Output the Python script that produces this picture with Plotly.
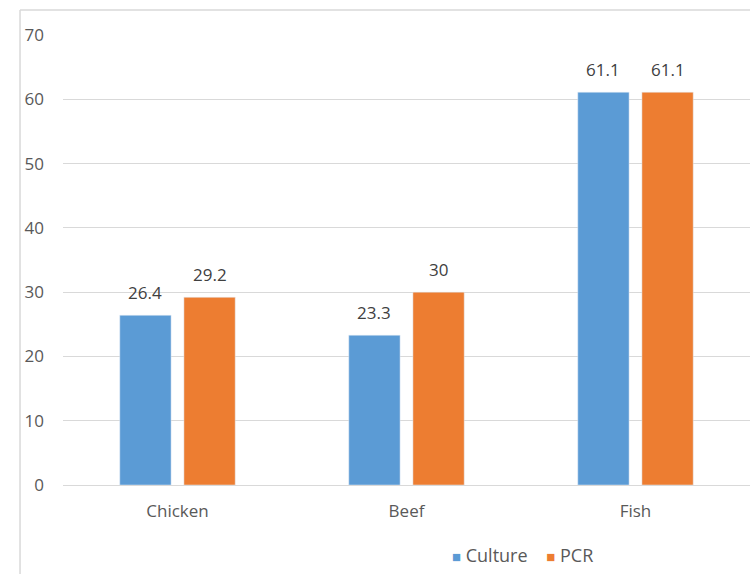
import plotly.graph_objects as go

categories = ["Chicken", "Beef", "Fish"]
culture = [26.4, 23.3, 61.1]
pcr = [29.2, 30, 61.1]
culture_labels = ["26.4", "23.3", "61.1"]
pcr_labels = ["29.2", "30", "61.1"]
y_ticks = [0, 10, 20, 30, 40, 50, 60, 70]

FONT = "Open Sans, Noto Sans, sans-serif"
BLUE, ORANGE = "#5B9BD5", "#ED7D31"

# body margin is set to 0 by post_script, so figure pixels == window pixels
W, H = 750, 574
l, r, t, b = 62.5, 0, 35, 89
pw = W - l - r
ph = H - t - b

def px_x(x):
    return (x - l) / pw

def px_y(y):
    return (H - b - y) / ph

bargap, bargroupgap = 0.44, 0.2
band = pw / len(categories)
slot = band * (1 - bargap) / 2
shift = slot / 2

fig = go.Figure()
fig.add_trace(go.Bar(x=categories, y=culture, name="Culture", marker_color=BLUE))
fig.add_trace(go.Bar(x=categories, y=pcr, name="PCR", marker_color=ORANGE))

annotations = []
for cat, v, lab in zip(categories, culture, culture_labels):
    annotations.append(dict(x=cat, y=v, xref="x", yref="y", text=lab, showarrow=False,
                            xshift=-shift, yshift=23, yanchor="middle",
                            font=dict(size=17, color="#404040", family=FONT)))
for cat, v, lab in zip(categories, pcr, pcr_labels):
    annotations.append(dict(x=cat, y=v, xref="x", yref="y", text=lab, showarrow=False,
                            xshift=shift, yshift=23, yanchor="middle",
                            font=dict(size=17, color="#404040", family=FONT)))

legend_text = (f"<span style='color:{BLUE};font-size:15px'>■</span> Culture"
               f"&nbsp;&nbsp;&nbsp;&nbsp;<span style='color:{ORANGE};font-size:15px'>■</span> PCR")
annotations.append(dict(x=px_x(522), y=px_y(555), xref="paper", yref="paper",
                        text=legend_text, showarrow=False, xanchor="center", yanchor="middle",
                        font=dict(size=18, color="#595959", family=FONT)))

fig.update_layout(
    width=W, height=H,
    margin=dict(l=l, r=r, t=t, b=b, pad=0),
    paper_bgcolor="white", plot_bgcolor="white",
    barmode="group", bargap=bargap, bargroupgap=bargroupgap,
    font=dict(family=FONT, color="#595959", size=17),
    showlegend=False,
    annotations=annotations,
    xaxis=dict(showgrid=False, showline=True, linecolor="#d9d9d9", linewidth=1,
               ticks="", tickfont=dict(size=17, color="#595959"), ticklabelstandoff=11),
    yaxis=dict(range=[0, 70], tickvals=y_ticks, showgrid=True, gridcolor="#d9d9d9",
               gridwidth=1, zeroline=False, showline=False, ticks="",
               tickfont=dict(size=17, color="#595959"), ticklabelstandoff=18),
    shapes=[
        dict(type="line", xref="paper", yref="paper", x0=px_x(19.5), x1=px_x(760),
             y0=px_y(10), y1=px_y(10), line=dict(color="#d9d9d9", width=1.5)),
        dict(type="line", xref="paper", yref="paper", x0=px_x(19.5), x1=px_x(19.5),
             y0=px_y(600), y1=px_y(10), line=dict(color="#d9d9d9", width=1.5)),
    ],
)

fig.write_html("out.html", config={"displayModeBar": False},
               post_script="document.body.style.margin='0';document.body.style.overflow='hidden';")
